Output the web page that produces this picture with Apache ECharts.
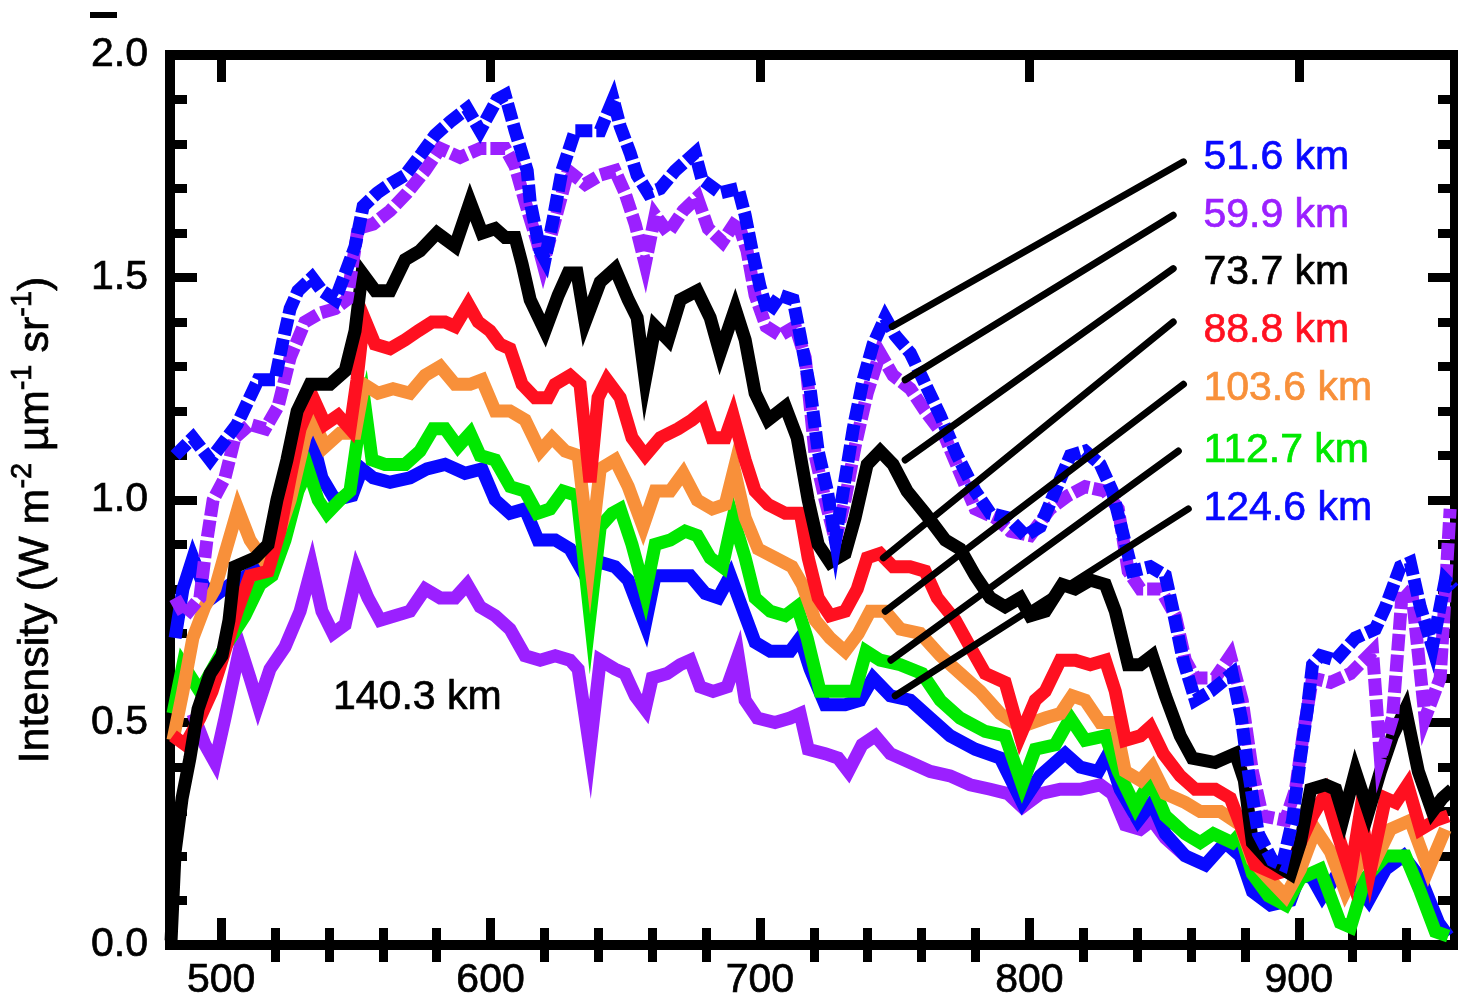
<!DOCTYPE html>
<html><head><meta charset="utf-8">
<script src="https://cdn.jsdelivr.net/npm/echarts@6/dist/echarts.min.js"></script>
<style>html,body{margin:0;padding:0;background:#fff}#c{width:1458px;height:1001px}</style>
</head><body><div id="c"></div>
<script>
const FONT = '"Liberation Sans", Arial, Helvetica, sans-serif';

// ---- data: [wavelength (nm), intensity] ----
const s516 = [[482.9,1.10],[489.5,1.14],[495.9,1.09],[505.9,1.17],[513.7,1.27],[520.0,1.27],[523.0,1.36],[525.6,1.43],[528.5,1.47],[533.7,1.50],[537.4,1.47],[542.3,1.45],[546.7,1.52],[549.7,1.57],[552.7,1.66],[557.9,1.69],[562.7,1.71],[568.3,1.73],[574.6,1.78],[579.4,1.82],[585.0,1.85],[591.3,1.88],[596.1,1.83],[602.4,1.90],[605.4,1.91],[609.1,1.83],[613.6,1.74],[614.7,1.67],[618.4,1.56],[620.2,1.54],[623.2,1.63],[626.5,1.74],[631.4,1.83],[640.7,1.83],[645.5,1.90],[648.1,1.84],[651.8,1.78],[654.4,1.73],[658.5,1.69],[663.0,1.70],[668.5,1.74],[672.2,1.76],[675.9,1.78],[678.5,1.72],[685.2,1.69],[691.9,1.70],[694.5,1.64],[697.1,1.56],[700.0,1.48],[703.0,1.42],[707.5,1.46],[712.3,1.45],[714.9,1.37],[718.6,1.25],[721.6,1.11],[725.0,1.02],[728.0,0.91],[730.9,1.02],[734.6,1.16],[738.3,1.27],[742.0,1.35],[746.5,1.41],[750.2,1.37],[755.8,1.33],[760.6,1.27],[766.9,1.19],[773.2,1.10],[779.9,1.02],[785.5,0.97],[792.1,0.96],[798.5,0.92],[804.0,0.94],[809.6,1.02],[815.2,1.10],[820.7,1.11],[826.3,1.08],[830.8,1.02],[834.5,0.93],[838.2,0.84],[844.9,0.85],[850.5,0.83],[853.4,0.75],[857.1,0.64],[861.6,0.55],[867.2,0.57],[875.3,0.61],[878.7,0.51],[881.3,0.39],[885.0,0.25],[890.2,0.19],[893.9,0.18],[897.7,0.28],[900.6,0.42],[903.2,0.53],[905.1,0.63],[908.0,0.65],[913.6,0.64],[921.0,0.69],[928.4,0.71],[932.2,0.76],[937.7,0.85],[941.4,0.86],[945.1,0.76],[949.6,0.67],[954.4,0.82],[957.5,0.80]];

const s599 = [[482.9,0.78],[486.6,0.74],[492.1,0.78],[494.7,0.91],[497.0,1.00],[501.4,1.05],[505.1,1.14],[510.7,1.17],[516.3,1.16],[521.1,1.21],[525.6,1.32],[531.1,1.40],[536.7,1.42],[542.3,1.43],[546.7,1.45],[550.8,1.61],[556.4,1.62],[562.7,1.65],[569.0,1.69],[575.7,1.74],[581.3,1.79],[588.7,1.77],[596.1,1.79],[605.4,1.79],[609.1,1.75],[612.8,1.67],[617.3,1.58],[619.5,1.53],[624.0,1.63],[628.8,1.74],[635.1,1.71],[640.7,1.73],[646.2,1.74],[649.9,1.69],[653.7,1.62],[657.4,1.53],[661.1,1.64],[665.9,1.60],[671.5,1.65],[676.7,1.68],[680.8,1.61],[686.0,1.58],[691.5,1.63],[695.2,1.56],[698.2,1.46],[702.3,1.39],[707.5,1.37],[713.1,1.39],[716.8,1.32],[720.5,1.10],[724.2,1.00],[728.0,0.91],[731.6,1.00],[735.3,1.12],[739.8,1.24],[744.6,1.33],[749.4,1.28],[755.8,1.25],[761.3,1.20],[768.8,1.14],[774.3,1.06],[779.9,0.98],[787.3,0.96],[792.9,0.93],[800.3,0.92],[807.7,0.98],[814.4,1.01],[820.7,1.03],[828.2,1.02],[833.0,0.98],[836.7,0.84],[841.2,0.80],[848.6,0.80],[854.2,0.74],[857.9,0.64],[861.6,0.60],[869.0,0.60],[874.6,0.65],[879.0,0.55],[882.8,0.39],[886.5,0.29],[895.0,0.28],[898.8,0.35],[901.8,0.48],[905.1,0.60],[911.8,0.59],[919.2,0.61],[927.4,0.66],[930.3,0.42],[934.8,0.51],[938.5,0.80],[942.2,0.78],[946.9,0.51],[952.5,0.60],[956.2,0.98]];

const s737 = [[481.4,0.01],[482.9,0.21],[485.5,0.33],[488.4,0.42],[491.4,0.53],[495.9,0.61],[500.3,0.65],[502.9,0.73],[505.1,0.85],[512.6,0.87],[517.4,0.90],[520.7,1.00],[524.4,1.09],[528.2,1.20],[533.0,1.26],[540.4,1.26],[546.0,1.29],[549.7,1.38],[552.3,1.51],[557.2,1.47],[562.7,1.47],[568.3,1.54],[573.8,1.56],[580.1,1.60],[586.8,1.57],[592.4,1.67],[596.8,1.60],[601.7,1.61],[605.4,1.59],[609.1,1.59],[611.7,1.53],[614.7,1.45],[620.2,1.38],[625.1,1.46],[628.8,1.51],[632.1,1.51],[635.1,1.40],[640.7,1.49],[646.2,1.52],[651.1,1.45],[654.4,1.41],[657.4,1.27],[661.1,1.39],[665.9,1.36],[670.4,1.45],[676.7,1.47],[681.5,1.41],[685.2,1.33],[690.8,1.43],[694.5,1.36],[698.2,1.24],[703.0,1.18],[709.4,1.21],[713.8,1.14],[717.9,1.00],[721.6,0.90],[726.0,0.86],[731.6,0.88],[735.3,0.96],[739.8,1.08],[744.6,1.11],[749.4,1.08],[754.6,1.02],[761.3,0.97],[768.8,0.91],[774.3,0.89],[779.9,0.83],[785.5,0.78],[791.0,0.76],[796.6,0.78],[800.3,0.74],[805.9,0.75],[812.2,0.81],[817.0,0.80],[822.6,0.82],[828.2,0.81],[831.9,0.75],[836.7,0.63],[841.2,0.63],[845.6,0.65],[850.5,0.56],[856.0,0.47],[860.5,0.42],[869.0,0.41],[876.5,0.43],[879.8,0.37],[882.8,0.23],[888.8,0.19],[896.9,0.16],[900.6,0.23],[904.4,0.35],[909.9,0.36],[913.7,0.35],[916.7,0.29],[921.0,0.39],[925.9,0.30],[930.3,0.39],[934.8,0.47],[939.6,0.53],[944.4,0.39],[949.6,0.30],[953.3,0.33],[957.0,0.35]];

const s888 = [[482.1,0.47],[486.6,0.45],[492.1,0.51],[496.6,0.57],[500.3,0.64],[505.9,0.75],[510.7,0.83],[517.4,0.84],[521.8,0.93],[525.6,1.05],[529.3,1.16],[534.1,1.23],[538.6,1.17],[543.4,1.19],[547.8,1.16],[550.4,1.27],[553.0,1.41],[557.1,1.35],[562.7,1.34],[568.3,1.36],[573.1,1.38],[578.3,1.40],[583.1,1.40],[586.8,1.39],[591.7,1.44],[595.4,1.40],[599.8,1.38],[603.5,1.35],[607.2,1.34],[611.7,1.26],[616.5,1.23],[621.3,1.23],[623.9,1.26],[629.5,1.28],[633.2,1.26],[636.9,1.04],[639.9,1.23],[643.2,1.27],[648.1,1.23],[652.5,1.14],[657.4,1.10],[663.0,1.14],[669.6,1.16],[674.8,1.18],[678.9,1.20],[682.2,1.14],[687.1,1.14],[690.0,1.19],[694.5,1.09],[698.2,1.02],[703.0,0.99],[709.4,0.97],[715.0,0.97],[717.9,0.87],[721.6,0.78],[726.0,0.74],[731.6,0.75],[736.1,0.80],[739.8,0.87],[744.6,0.88],[749.4,0.85],[755.7,0.85],[761.3,0.84],[765.8,0.78],[772.5,0.73],[778.0,0.67],[783.6,0.61],[791.0,0.59],[796.6,0.47],[802.2,0.55],[805.9,0.57],[811.5,0.64],[817.1,0.64],[822.6,0.63],[828.2,0.64],[831.9,0.57],[835.6,0.46],[841.2,0.47],[844.9,0.49],[849.7,0.43],[856.0,0.38],[861.6,0.35],[869.0,0.35],[874.6,0.33],[879.0,0.26],[883.8,0.18],[891.3,0.16],[896.8,0.17],[900.6,0.23],[905.1,0.29],[909.9,0.34],[914.4,0.25],[919.2,0.16],[922.9,0.30],[926.6,0.17],[932.2,0.33],[936.0,0.32],[940.4,0.36],[945.2,0.26],[950.8,0.28],[955.5,0.29]];

const s1036 = [[482.1,0.46],[485.8,0.57],[489.5,0.69],[493.9,0.76],[497.7,0.80],[501.4,0.88],[506.2,0.98],[510.7,0.91],[515.2,0.87],[520.0,0.90],[525.6,1.00],[531.1,1.14],[534.1,1.18],[538.6,1.12],[544.1,1.15],[549.7,1.15],[553.0,1.26],[558.2,1.24],[563.8,1.25],[570.1,1.24],[575.7,1.28],[581.3,1.30],[586.8,1.26],[592.4,1.26],[596.8,1.27],[601.7,1.20],[607.2,1.20],[612.8,1.18],[618.4,1.11],[622.8,1.14],[627.7,1.11],[632.5,1.10],[636.9,0.87],[640.7,1.07],[646.2,1.09],[651.1,1.03],[656.6,0.94],[661.1,1.02],[666.7,1.02],[671.5,1.06],[676.7,1.00],[682.3,0.98],[687.1,0.99],[690.4,1.07],[694.5,0.96],[699.3,0.89],[705.6,0.87],[711.9,0.85],[715.7,0.81],[720.5,0.73],[726.0,0.69],[731.6,0.66],[736.5,0.70],[740.9,0.75],[746.5,0.75],[752.1,0.71],[759.5,0.70],[767.0,0.65],[774.4,0.61],[781.8,0.57],[789.2,0.52],[796.6,0.49],[805.9,0.51],[811.5,0.52],[815.9,0.56],[820.7,0.55],[826.3,0.50],[831.9,0.50],[835.6,0.39],[841.2,0.37],[845.6,0.40],[850.5,0.34],[857.9,0.32],[863.4,0.30],[870.9,0.30],[878.3,0.27],[882.8,0.19],[888.8,0.15],[895.1,0.11],[900.6,0.17],[906.2,0.26],[911.7,0.21],[917.3,0.12],[924.7,0.21],[928.4,0.19],[934.0,0.26],[941.4,0.28],[948.1,0.17],[954.4,0.26]];

const s1127 = [[482.1,0.52],[485.8,0.63],[492.1,0.57],[501.4,0.67],[508.8,0.74],[514.4,0.81],[518.9,0.83],[523.7,0.91],[528.5,1.02],[532.2,1.07],[536.0,1.00],[539.3,0.97],[544.1,1.00],[547.8,1.02],[550.4,1.13],[553.4,1.21],[556.0,1.09],[560.8,1.08],[568.3,1.08],[573.8,1.11],[578.7,1.16],[583.1,1.16],[587.9,1.12],[592.4,1.15],[596.1,1.10],[601.7,1.09],[607.3,1.03],[612.8,1.02],[617.3,0.97],[622.1,0.98],[626.9,1.02],[632.1,1.01],[636.9,0.74],[640.7,0.94],[645.1,0.97],[648.1,0.98],[652.5,0.90],[657.4,0.79],[661.1,0.90],[666.7,0.91],[672.2,0.93],[676.7,0.92],[681.5,0.87],[686.0,0.85],[690.0,0.96],[694.5,0.87],[698.2,0.78],[703.8,0.75],[709.4,0.74],[713.8,0.76],[717.5,0.69],[722.3,0.57],[729.8,0.57],[735.3,0.57],[739.4,0.66],[744.6,0.64],[752.1,0.63],[760.2,0.61],[766.9,0.55],[774.3,0.51],[783.6,0.48],[791.0,0.47],[797.3,0.36],[802.2,0.44],[809.6,0.45],[815.2,0.51],[820.7,0.46],[828.2,0.47],[833.0,0.39],[839.4,0.31],[844.9,0.37],[850.5,0.29],[857.9,0.25],[863.4,0.23],[868.3,0.25],[875.3,0.23],[878.3,0.25],[882.8,0.16],[888.8,0.11],[895.1,0.09],[900.6,0.15],[908.0,0.17],[915.4,0.05],[919.2,0.04],[924.7,0.15],[932.2,0.20],[939.6,0.20],[945.1,0.12],[950.7,0.03],[955.5,0.02]];

const s1246 = [[482.9,0.69],[485.8,0.80],[489.5,0.87],[493.3,0.81],[496.6,0.78],[503.3,0.81],[512.6,0.84],[518.1,0.85],[523.7,0.96],[528.5,1.07],[533.7,1.14],[537.4,1.05],[542.3,1.00],[548.6,1.01],[552.3,1.07],[556.4,1.05],[562.7,1.04],[570.1,1.05],[576.4,1.07],[583.1,1.08],[590.5,1.06],[596.8,1.07],[601.7,1.00],[607.2,0.97],[612.8,0.98],[617.6,0.91],[624.0,0.91],[629.5,0.89],[635.1,0.83],[640.7,0.86],[646.2,0.85],[651.1,0.82],[657.4,0.72],[661.1,0.83],[666.7,0.83],[674.1,0.83],[679.7,0.79],[684.5,0.78],[689.0,0.83],[694.5,0.74],[698.2,0.68],[703.8,0.66],[711.2,0.66],[714.9,0.69],[718.6,0.62],[724.2,0.54],[731.6,0.54],[737.2,0.55],[742.0,0.60],[748.4,0.56],[755.8,0.55],[763.2,0.51],[770.6,0.47],[779.9,0.44],[789.2,0.42],[797.4,0.32],[804.0,0.38],[813.3,0.43],[818.9,0.40],[825.6,0.39],[829.3,0.43],[833.7,0.35],[840.4,0.28],[845.6,0.32],[850.5,0.25],[857.9,0.20],[865.3,0.18],[872.7,0.23],[878.3,0.20],[882.8,0.12],[889.5,0.09],[896.9,0.10],[900.6,0.16],[905.1,0.15],[908.8,0.11],[915.5,0.17],[921.0,0.14],[925.9,0.10],[932.2,0.17],[938.9,0.20],[945.2,0.15],[951.9,0.05],[955.5,0.02]];

const s1403 = [[489.5,0.52],[494.0,0.45],[497.7,0.41],[501.4,0.51],[507.0,0.67],[510.7,0.60],[513.7,0.54],[518.1,0.62],[523.7,0.67],[529.3,0.75],[533.7,0.85],[537.4,0.75],[541.5,0.70],[546.0,0.72],[550.4,0.84],[554.5,0.78],[559.0,0.73],[564.5,0.74],[570.1,0.75],[575.7,0.80],[581.3,0.78],[586.8,0.78],[591.3,0.81],[596.1,0.76],[601.7,0.74],[607.2,0.71],[612.8,0.65],[618.4,0.64],[624.0,0.65],[629.5,0.64],[632.5,0.62],[636.9,0.44],[640.7,0.64],[646.2,0.62],[649.9,0.61],[653.7,0.56],[657.4,0.53],[660.0,0.60],[665.5,0.61],[670.4,0.63],[674.1,0.64],[677.8,0.58],[682.6,0.57],[687.8,0.58],[691.9,0.65],[694.5,0.55],[699.0,0.51],[705.6,0.50],[711.2,0.51],[714.9,0.52],[717.9,0.44],[724.2,0.43],[729.0,0.42],[732.8,0.39],[737.9,0.45],[742.8,0.47],[748.4,0.43],[755.8,0.41],[763.2,0.39],[770.6,0.38],[778.0,0.36],[785.5,0.35],[792.1,0.34],[797.4,0.31],[804.0,0.34],[811.5,0.35],[818.9,0.35],[826.3,0.36],[830.8,0.34],[835.6,0.27],[841.2,0.26],[845.6,0.28],[850.5,0.24],[857.9,0.20]];

const altitudes = ['51.6 km','59.9 km','73.7 km','88.8 km','103.6 km','112.7 km','124.6 km','140.3 km'];
const colors = ['#0808FF','#9B20FF','#000000','#FF1020','#F8903A','#00E800','#0808FF','#9B20FF'];
const seriesData = [s516, s599, s737, s888, s1036, s1127, s1246, s1403];
const dashed = [true, true, false, false, false, false, false, false];

// label anchors (data coords) and leader lines (label end -> curve end)
const labelX = 864.6;
const labelY = [1.77, 1.64, 1.51, 1.38, 1.25, 1.11, 0.98];
const leaderStart = [[857.2,1.76],[853.4,1.64],[853.4,1.52],[853.4,1.40],[857.2,1.26],[855.3,1.11],[859.0,0.98]];
const leaderEnd = [[749.1,1.39],[753.9,1.27],[753.9,1.09],[745.8,0.87],[746.5,0.75],[748.6,0.64],[750.2,0.56]];
const innerLabel = {text: '140.3 km', x: 541.5, y: 0.555};

// axes ticks
const xMajor = [500, 600, 700, 800, 900];
const xMinor = [520, 540, 560, 580, 620, 640, 660, 680, 720, 740, 760, 780, 820, 840, 860, 880, 920, 940];
const X_MIN = 481, X_MAX = 958;

const chart = echarts.init(document.getElementById('c'));

const TXT = {fontFamily: FONT, color: '#000', textBorderColor: '#000', textBorderWidth: 0.7};
const frameLine = {show: true, onZero: false, lineStyle: {color: '#000', width: 10, cap: 'square'}};
function xAx(pos, ticks, len, labels, line) {
  return {
    type: 'value', position: pos, min: X_MIN, max: X_MAX,
    axisLine: line ? frameLine : {show: false},
    axisTick: {show: true, inside: true, length: len, customValues: ticks, lineStyle: {color: '#000', width: 9}},
    axisLabel: labels ? Object.assign({show: true, customValues: xMajor, fontSize: 41, margin: 15}, TXT) : {show: false},
    splitLine: {show: false}
  };
}
function yAx(pos, labels) {
  const a = {
    type: 'value', position: pos, min: 0, max: 2, interval: 0.5,
    axisLine: frameLine,
    axisTick: {show: true, inside: true, length: 27, lineStyle: {color: '#000', width: 9}},
    minorTick: {show: true, splitNumber: 5, length: 17, lineStyle: {color: '#000', width: 9}},
    axisLabel: labels ? Object.assign({show: true, fontSize: 41, margin: 22, formatter: v => v.toFixed(1)}, TXT) : {show: false},
    splitLine: {show: false}, minorSplitLine: {show: false}
  };
  if (labels) {
    a.name = '{a|Intensity (W m}{s|-2}{a| \u00b5m}{s|-1}{a| sr}{s|-1}{a|)}';
    a.nameLocation = 'middle';
    a.nameRotate = 90;
    a.nameGap = 112;
    a.nameTextStyle = {
      color: '#000', fontFamily: FONT, fontSize: 43, lineHeight: 50, padding: [0, 40, 0, 0],
      rich: {
        a: Object.assign({fontSize: 43, lineHeight: 50, verticalAlign: 'bottom'}, TXT),
        s: Object.assign({fontSize: 29, lineHeight: 50, verticalAlign: 'top'}, TXT)
      }
    };
  }
  return a;
}

const series = [];
// draw highest altitude first so 51.6 km ends on top
for (let i = seriesData.length - 1; i >= 0; i--) {
  series.push({
    type: 'line', name: altitudes[i], data: seriesData[i],
    xAxisIndex: 0, yAxisIndex: 0, showSymbol: false, symbol: 'none',
    lineStyle: {color: colors[i], width: 13, type: dashed[i] ? [17, 4] : 'solid', cap: 'butt', join: 'miter'},
    animation: false, clip: true, z: 2
  });
}
series.push({
  type: 'lines', coordinateSystem: 'cartesian2d', xAxisIndex: 0, yAxisIndex: 0,
  data: leaderStart.map((s, i) => ({coords: [s, leaderEnd[i]]})),
  lineStyle: {color: '#000', width: 7, opacity: 1, curveness: 0, cap: 'round'},
  animation: false, z: 3
});
function lab(text, color) {
  return {show: true, position: 'inside', align: 'left', verticalAlign: 'middle', opacity: 1,
    formatter: text, color: color, fontSize: 41, fontFamily: FONT, textBorderColor: color, textBorderWidth: 0.7};
}
series.push({
  type: 'scatter', xAxisIndex: 0, yAxisIndex: 0, symbolSize: 0,
  itemStyle: {opacity: 1},
  data: labelY.map((y, i) => ({value: [labelX, y], itemStyle: {opacity: 1}, label: lab(altitudes[i], colors[i])}))
    .concat([{value: [innerLabel.x, innerLabel.y], itemStyle: {opacity: 1}, label: lab(innerLabel.text, '#000')}]),
  animation: false, z: 4, silent: true
});

chart.setOption({
  backgroundColor: '#fff',
  animation: false,
  grid: {left: 170, right: 3, top: 55, bottom: 56, containLabel: false, outerBoundsMode: 'none'},
  xAxis: [
    xAx('bottom', xMajor, 27, true, true),
    xAx('bottom', xMinor, 17, false, false),
    xAx('top', xMajor, 27, false, true),
    xAx('top', xMinor, 17, false, false)
  ],
  yAxis: [yAx('left', true), yAx('right', false)],
  graphic: [{type: 'rect', left: 90, top: 12, shape: {width: 27, height: 6}, style: {fill: '#000'}}],
  series: series
});
</script></body></html>
